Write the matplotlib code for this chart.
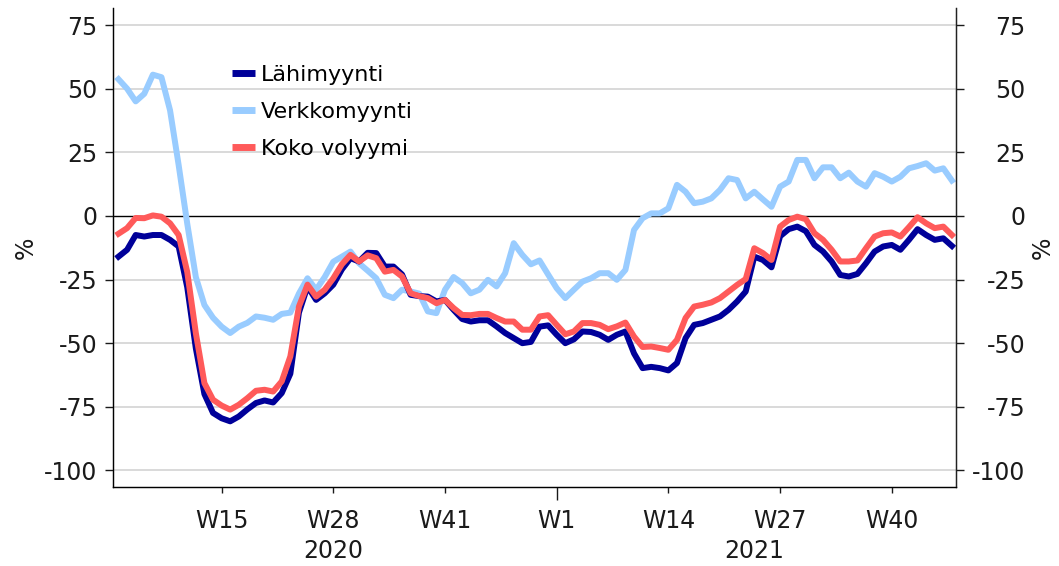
import numpy as np
import matplotlib
matplotlib.use('Agg')
import matplotlib.pyplot as plt
from matplotlib.transforms import blended_transform_factory

# weekly series, 2020 W3 ... 2021 W47 (98 weeks), change in %
lahimyynti = [
    -16, -13.3, -7.5, -8.1, -7.5, -7.5, -9.4, -12, -28, -52,
    -70, -77.4, -79.5, -80.7, -78.8, -76, -73.5, -72.5, -73.3, -69.6,
    -62, -38, -27.7, -33, -30.4, -27, -21, -16.6, -17.9, -14.5,
    -14.6, -19.9, -19.9, -23, -31, -31.5, -31.7, -33.6, -33, -36.9,
    -40.5, -41.5, -41, -41, -43.4, -46, -48, -50, -49.5, -43.5,
    -43, -46.7, -50, -48.5, -45.4, -45.6, -46.7, -48.7, -46.7, -45.4,
    -54, -59.8, -59.3, -59.8, -60.7, -57.8, -48, -42.8, -42.1, -40.8,
    -39.5, -36.9, -33.6, -29.7, -16, -17.3, -20.2, -8, -5.2, -4.2,
    -6, -11.4, -14, -17.9, -23.2, -23.8, -22.8, -18.6, -14, -12,
    -11.4, -13.3, -9.4, -5.2, -7.5, -9.4, -8.8, -11.8,
]
verkkomyynti = [
    53.7, 50, 45, 48, 55.5, 54.5, 41.5, 20, -3, -24,
    -35, -40, -43.5, -46, -43.5, -42, -39.5, -40, -40.8, -38.5,
    -38, -30.5, -24.5, -29, -24, -18, -16, -14, -18.6, -21.5,
    -24.5, -31, -32.3, -29, -29.7, -30.5, -37.5, -38.2, -29, -24,
    -26.4, -30.4, -29, -25.1, -27.7, -22.5, -10.7, -15.3, -19, -17.5,
    -23, -28.4, -32.3, -29, -25.8, -24.5, -22.5, -22.5, -25.1, -21.2,
    -5.5, -0.9, 1, 1, 3, 12.2, 9.5, 5, 5.6, 6.9,
    10.2, 14.8, 14.1, 6.9, 9.5, 6.5, 3.6, 11.5, 13.5, 22,
    22, 14.8, 19.1, 19.1, 14.8, 17, 13.5, 11.5, 16.8, 15.4,
    13.5, 15.4, 18.7, 19.6, 20.7, 17.8, 18.7, 13.9,
]
koko_volyymi = [
    -7, -4.8, -0.8, -0.9, 0.2, -0.3, -2.9, -7.5, -22, -46,
    -65.7, -72.2, -74.5, -76.1, -74.2, -71.6, -68.7, -68.3, -69, -65,
    -55.2, -35.6, -27, -31.7, -29, -24.5, -19, -15.3, -17.9, -15.5,
    -16.6, -21.9, -21.2, -23.8, -30.4, -31.5, -32.3, -34.3, -33, -36.2,
    -38.9, -39, -38.5, -38.5, -40.1, -41.5, -41.5, -44.7, -44.7, -39.5,
    -39, -42.8, -46.5, -45.4, -42.1, -42.1, -42.8, -44.5, -43.4, -41.9,
    -47.4, -51.5, -51.3, -51.9, -52.6, -48.7, -40.1, -35.6, -34.9, -34,
    -32.3, -29.7, -27.1, -24.8, -12.7, -14.6, -17.3, -4.2, -1.6, -0.3,
    -1.3, -6.8, -9.4, -13.3, -17.9, -17.9, -17.5, -12.7, -8.1, -6.8,
    -6.5, -8.1, -4.4, -0.5, -2.9, -4.8, -4.2, -7.5,
]

tick_weeks = [12, 25, 38, 51, 64, 77, 90]
tick_labels = ['W15', 'W28', 'W41', 'W1', 'W14', 'W27', 'W40']
years = ['2020', '2021']
year_centers = [25, 74]
y_ticks = [-100, -75, -50, -25, 0, 25, 50, 75]

plt.rcParams['font.family'] = ['DejaVu Sans']
plt.rcParams['axes.unicode_minus'] = False
txt = '#1a1a1a'

fig = plt.figure(figsize=(10.59, 5.66), dpi=100)
ax = fig.add_axes([0.1067, 0.1396, 0.7960, 0.8463])

x = np.arange(len(lahimyynti))
ax.plot(x, lahimyynti, color='#000099', lw=4.3, label='Lähimyynti', zorder=3)
ax.plot(x, verkkomyynti, color='#99ccff', lw=4.3, label='Verkkomyynti', zorder=2)
ax.plot(x, koko_volyymi, color='#ff5a5a', lw=4.3, label='Koko volyymi', zorder=4)

ax.set_xlim(-0.64, 97.47)
ax.set_ylim(-106.5, 81.7)
ax.set_yticks(y_ticks)
for v in y_ticks:
    if v == 0:
        ax.axhline(0, color='black', lw=1.0, zorder=1)
    else:
        ax.axhline(v, color='#cfcfcf', lw=1.1, zorder=0)

ax.set_xticks(tick_weeks)
ax.set_xticklabels(tick_labels)
ax.tick_params(axis='x', length=4, width=1, pad=12, labelsize=17, colors=txt)
ax.xaxis.get_major_ticks()[3].tick1line.set_markersize(9)
ax.tick_params(axis='y', length=6, width=1, pad=5, labelsize=17, colors=txt)

tr = blended_transform_factory(ax.transData, ax.transAxes)
for yr, xc in zip(years, year_centers):
    ax.text(xc, -0.134, yr, transform=tr, ha='center', va='center', fontsize=17, color=txt)

ax.spines['top'].set_visible(False)
for s in ['left', 'right', 'bottom']:
    ax.spines[s].set_color('#222222')
    ax.spines[s].set_linewidth(1.0)

ax2 = ax.twinx()
ax2.set_ylim(ax.get_ylim())
ax2.set_yticks(y_ticks)
ax2.tick_params(axis='y', length=6, width=1, pad=44, labelsize=17, colors=txt)
for lab in ax2.get_yticklabels():
    lab.set_horizontalalignment('right')
ax2.spines['top'].set_visible(False)
ax2.spines['right'].set_color('#222222')

fig.text(0.024, 0.563, '%', rotation=90, ha='center', va='center', fontsize=17, color=txt)
fig.text(0.985, 0.563, '%', rotation=90, ha='center', va='center', fontsize=17, color=txt)

leg = ax.legend(loc='upper left', bbox_to_anchor=(0.141, 0.882), frameon=False, fontsize=16,
                handlelength=1.05, handletextpad=0.25, labelspacing=0.77, borderpad=0,
                borderaxespad=0)
for h in leg.get_lines():
    h.set_solid_capstyle('butt')
    h.set_linewidth(5)

fig.savefig('out.png', dpi=100)
